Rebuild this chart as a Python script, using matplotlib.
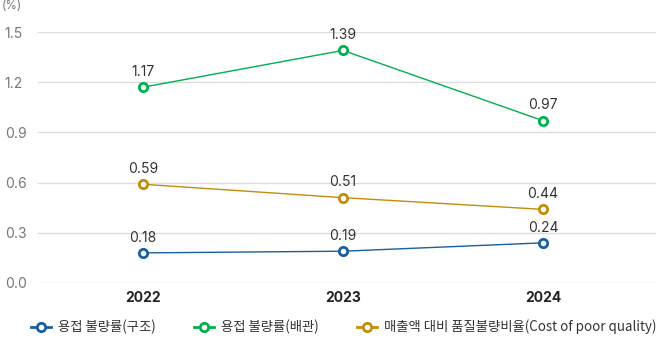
import matplotlib
matplotlib.use('Agg')
import matplotlib.pyplot as plt
import numpy as np

plt.rcParams['font.family'] = ['Inter', 'Noto Sans CJK KR', 'DejaVu Sans']

# 데이터
years = ['2022', '2023', '2024']
series_names = ['용접 불량률(구조)', '용접 불량률(배관)', '매출액 대비 품질불량비율(Cost of poor quality)']
structure = [0.18, 0.19, 0.24]
piping = [1.17, 1.39, 0.97]
copq = [0.59, 0.51, 0.44]
y_ticks = [0.0, 0.3, 0.6, 0.9, 1.2, 1.5]

colors = ['#1a5fa0', '#00b04f', '#c38c0c']

fig = plt.figure(figsize=(6.56, 3.38), dpi=100)
ax = fig.add_axes([38 / 656, 55 / 338, 618 / 656, 251 / 338])

x = np.arange(len(years))
for vals, name, c in zip([structure, piping, copq], series_names, colors):
    ax.plot(x, vals, color=c, linewidth=1, marker='o', markersize=6,
            markerfacecolor='white', markeredgecolor=c, markeredgewidth=2,
            label=name, zorder=3)
    for xi, v in zip(x, vals):
        ax.annotate(f'{v:.2f}', (xi, v), xytext=(0, 6), textcoords='offset points',
                    ha='center', va='bottom', fontsize=10, color='#333333')

ax.set_xlim(-0.525, 2.565)
ax.set_ylim(0, 1.5)
ax.set_yticks(y_ticks)
ax.set_yticklabels([f'{t:.1f}' for t in y_ticks], color='#777777', fontsize=10)
ax.set_xticks(x)
ax.set_xticklabels(years, fontsize=10, fontweight='bold', color='#222222')
ax.tick_params(axis='both', length=0)
ax.tick_params(axis='y', pad=24)
ax.tick_params(axis='x', pad=6)
for lbl in ax.get_yticklabels():
    lbl.set_horizontalalignment('left')
ax.grid(axis='y', color='#dddddd', linewidth=1)
ax.set_axisbelow(True)
for s in ax.spines.values():
    s.set_visible(False)

fig.text(2 / 656, 1 - 6 / 338, '(%)', fontsize=8.5, color='#777777', va='center', ha='left')

leg = fig.legend(loc='center', bbox_to_anchor=(344 / 656, 1 - 327 / 338), ncol=3, frameon=False,
                 prop={'family': ['Noto Sans CJK KR', 'DejaVu Sans'], 'size': 9.6},
                 handlelength=1.45, columnspacing=2.9, handletextpad=0.55,
                 labelcolor='#333333')
# 범례 선 굵게
for h in leg.legend_handles:
    h.set_linewidth(2)

plt.savefig('out.png', dpi=100)
plt.close()
